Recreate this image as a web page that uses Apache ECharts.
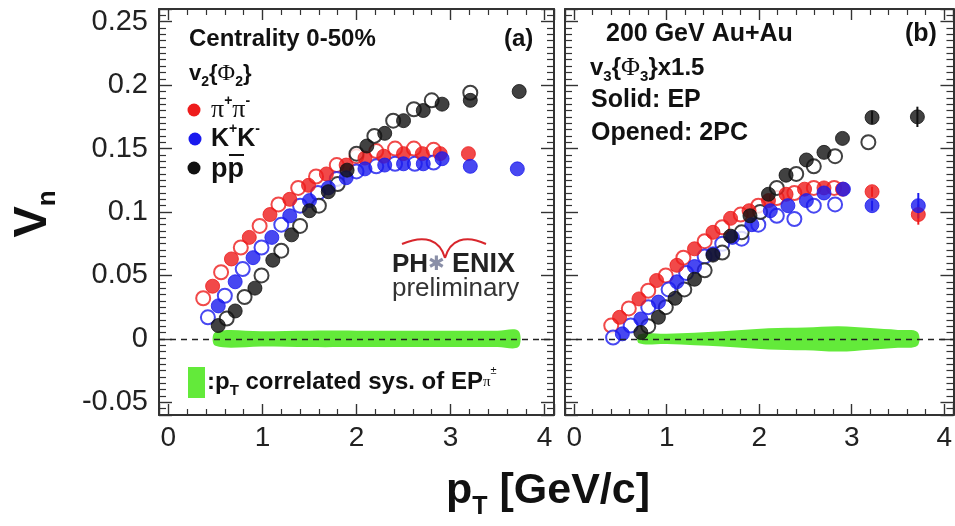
<!DOCTYPE html>
<html>
<head>
<meta charset="utf-8">
<script src="https://cdn.jsdelivr.net/npm/echarts@6/dist/echarts.min.js"></script>
<style>
  html, body { margin: 0; padding: 0; background: #fff; }
  #chart { width: 955px; height: 526px; }
</style>
</head>
<body>
<div id="chart"></div>
<script>
// ---------- Panel (a): v2{Phi2}, centrality 0-50% ----------
// filled = event plane (EP), open = two-particle correlation (2PC)
const a_piEP_pt = [0.47, 0.67, 0.86, 1.08, 1.29, 1.49, 1.68, 1.89, 2.09, 2.29, 2.50, 2.70, 2.89, 3.19];
const a_piEP_v  = [0.0415, 0.063, 0.080, 0.098, 0.110, 0.121, 0.130, 0.137, 0.1425, 0.144, 0.146, 0.146, 0.146, 0.146];
const a_piPC_pt = [0.37, 0.56, 0.77, 0.97, 1.17, 1.38, 1.57, 1.79, 2.00, 2.21, 2.41, 2.61, 2.82];
const a_piPC_v  = [0.032, 0.0525, 0.072, 0.089, 0.106, 0.119, 0.128, 0.137, 0.144, 0.148, 0.150, 0.150, 0.149];
const a_kEP_pt  = [0.53, 0.71, 0.90, 1.10, 1.29, 1.50, 1.70, 1.89, 2.09, 2.30, 2.50, 2.71, 2.91, 3.21, 3.71];
const a_kEP_v   = [0.026, 0.045, 0.064, 0.080, 0.097, 0.109, 0.119, 0.127, 0.134, 0.137, 0.138, 0.138, 0.142, 0.136, 0.134];
const a_kPC_pt  = [0.42, 0.60, 0.79, 0.99, 1.20, 1.40, 1.59, 1.79, 2.00, 2.21, 2.41, 2.62, 2.82];
const a_kPC_v   = [0.017, 0.034, 0.055, 0.072, 0.090, 0.105, 0.115, 0.126, 0.132, 0.136, 0.138, 0.138, 0.139];
const a_pEP_pt  = [0.53, 0.71, 0.92, 1.11, 1.31, 1.50, 1.70, 1.90, 2.11, 2.30, 2.50, 2.71, 2.91, 3.21, 3.73];
const a_pEP_v   = [0.0105, 0.022, 0.040, 0.062, 0.082, 0.101, 0.116, 0.133, 0.152, 0.162, 0.172, 0.180, 0.185, 0.188, 0.195];
const a_pPC_pt  = [0.62, 0.81, 0.99, 1.20, 1.40, 1.60, 1.80, 2.00, 2.19, 2.39, 2.61, 2.80, 3.21];
const a_pPC_v   = [0.016, 0.033, 0.050, 0.0695, 0.089, 0.105, 0.122, 0.146, 0.160, 0.172, 0.181, 0.188, 0.194];
// pT-correlated systematic band of the EP pi0 (half width)
const a_band_pt = [0.50, 1.00, 1.50, 2.00, 2.50, 3.00, 3.50, 3.72];
const a_band_hw = [0.0055, 0.006, 0.0065, 0.0065, 0.0065, 0.0065, 0.0065, 0.0065];

// ---------- Panel (b): v3{Phi3} x 1.5, 200 GeV Au+Au ----------
const b_piEP_pt  = [0.49, 0.70, 0.89, 1.11, 1.30, 1.50, 1.69, 1.89, 2.10, 2.29, 2.49, 2.70, 2.90, 3.22, 3.72];
const b_piEP_v   = [0.017, 0.0315, 0.046, 0.058, 0.071, 0.084, 0.095, 0.101, 0.109, 0.114, 0.118, 0.119, 0.118, 0.116, 0.098];
const b_piEP_err = [0, 0, 0, 0, 0, 0, 0, 0, 0, 0, 0, 0, 0, 0.004, 0.008];
const b_piPC_pt  = [0.40, 0.59, 0.80, 0.99, 1.18, 1.41, 1.60, 1.80, 1.99, 2.19, 2.38, 2.59, 2.81];
const b_piPC_v   = [0.0105, 0.024, 0.038, 0.050, 0.064, 0.077, 0.088, 0.098, 0.105, 0.111, 0.115, 0.119, 0.119];
const b_kEP_pt   = [0.52, 0.72, 0.91, 1.11, 1.30, 1.50, 1.71, 1.92, 2.12, 2.31, 2.51, 2.70, 2.91, 3.22, 3.72];
const b_kEP_v    = [0.004, 0.0157, 0.029, 0.045, 0.057, 0.067, 0.080, 0.090, 0.101, 0.105, 0.109, 0.115, 0.118, 0.105, 0.105];
const b_kEP_err  = [0, 0, 0, 0, 0, 0, 0, 0, 0, 0, 0, 0, 0, 0.004, 0.010];
const b_kPC_pt   = [0.42, 0.61, 0.80, 1.02, 1.21, 1.41, 1.60, 1.81, 1.99, 2.19, 2.38, 2.59, 2.82];
const b_kPC_v    = [0.001, 0.0105, 0.025, 0.039, 0.052, 0.065, 0.075, 0.079, 0.090, 0.097, 0.0945, 0.105, 0.106];
const b_pEP_pt   = [0.72, 0.91, 1.09, 1.30, 1.50, 1.69, 1.90, 2.10, 2.29, 2.51, 2.70, 2.90, 3.22, 3.71];
const b_pEP_v    = [0.005, 0.017, 0.032, 0.047, 0.066, 0.081, 0.097, 0.114, 0.129, 0.141, 0.147, 0.158, 0.1745, 0.175];
const b_pEP_err  = [0, 0, 0, 0, 0, 0, 0, 0, 0, 0, 0, 0, 0.005, 0.008];
const b_pPC_pt   = [0.80, 0.99, 1.19, 1.41, 1.60, 1.81, 2.01, 2.19, 2.40, 2.59, 2.82, 3.18];
const b_pPC_v    = [0.010, 0.025, 0.039, 0.054, 0.068, 0.084, 0.100, 0.119, 0.130, 0.136, 0.144, 0.155];
const b_band_pt  = [0.70, 1.00, 1.60, 2.10, 2.50, 2.86, 3.20, 3.50, 3.71];
const b_band_hw  = [0.0035, 0.004, 0.006, 0.0083, 0.009, 0.010, 0.0085, 0.007, 0.0055];

// axis ranges and tick labels
const xRange = [-0.1, 4.1];
const yRange = [-0.06, 0.26];
const xTickLabels = ['0', '1', '2', '3', '4'];

const RED = '#ee1c1c', BLUE = '#1a1aee', BLACK = '#111111', GREEN = '#63ea3a';
const FRAME = '#333333';
const FONT = 'Liberation Sans';

const zip = (xs, ys) => xs.map((x, i) => [x, ys[i]]);

function xAxisDef(grid, pos) {
  return {
    type: 'value', gridIndex: grid, position: pos,
    min: xRange[0], max: xRange[1], splitNumber: 4,
    axisLine: { show: true, onZero: false, lineStyle: { color: FRAME, width: 2 } },
    axisTick: { show: true, inside: true, length: 11, lineStyle: { color: FRAME, width: 1.4 } },
    minorTick: { show: true, splitNumber: 5, length: 6, lineStyle: { color: FRAME, width: 1.2 } },
    axisLabel: {
      show: pos === 'bottom', showMinLabel: false, showMaxLabel: false,
      fontSize: 28, fontFamily: FONT, color: '#222', margin: 9,
      formatter: v => xTickLabels[Math.round(v)] !== undefined ? xTickLabels[Math.round(v)] : ''
    },
    splitLine: { show: false }
  };
}
function yAxisDef(grid, pos, labels) {
  return {
    type: 'value', gridIndex: grid, position: pos,
    min: yRange[0], max: yRange[1], splitNumber: 6,
    axisLine: { show: true, onZero: false, lineStyle: { color: FRAME, width: 2 } },
    axisTick: { show: true, inside: true, length: 13, lineStyle: { color: FRAME, width: 1.4 } },
    minorTick: { show: true, splitNumber: 10, length: 7, lineStyle: { color: FRAME, width: 1.2 } },
    axisLabel: {
      show: labels, showMinLabel: false, showMaxLabel: false,
      fontSize: 29, fontFamily: FONT, color: '#222', margin: 11,
      formatter: v => String(Math.round(v * 100) / 100)
    },
    splitLine: { show: false }
  };
}

function points(name, xi, yi, data, color, open, z) {
  return {
    name, type: 'scatter', xAxisIndex: xi, yAxisIndex: yi, data,
    symbol: 'circle', symbolSize: 14, z,
    itemStyle: open
      ? { color: '#ffffff', borderColor: color, borderWidth: 2 }
      : { color: color, borderColor: color, borderWidth: 1 },
    emphasis: { disabled: true }, silent: true
  };
}

function band(xi, yi, pts, hw) {
  return {
    type: 'custom', xAxisIndex: xi, yAxisIndex: yi, z: 1, silent: true,
    data: [[pts[0], 0]],
    renderItem: (params, api) => {
      const poly = [];
      for (let i = 0; i < pts.length; i++) poly.push(api.coord([pts[i], hw[i]]));
      for (let i = pts.length - 1; i >= 0; i--) poly.push(api.coord([pts[i], -hw[i]]));
      return { type: 'polygon', shape: { points: poly, smooth: 0.35 }, style: { fill: GREEN } };
    },
    markLine: {
      silent: true, symbol: 'none', z: 5,
      label: { show: false },
      lineStyle: { color: '#222', type: [6, 5], width: 1.4 },
      data: [{ yAxis: 0 }]
    }
  };
}

function errorBars(xi, yi, xs, ys, es, color) {
  const data = [];
  xs.forEach((x, i) => { if (es[i] > 0) data.push([x, ys[i] - es[i], ys[i] + es[i]]); });
  return {
    type: 'custom', xAxisIndex: xi, yAxisIndex: yi, z: 3, silent: true, data,
    renderItem: (params, api) => {
      const lo = api.coord([api.value(0), api.value(1)]);
      const hi = api.coord([api.value(0), api.value(2)]);
      return { type: 'line', shape: { x1: lo[0], y1: lo[1], x2: hi[0], y2: hi[1] }, style: { stroke: color, lineWidth: 2 } };
    }
  };
}

const txt = (x, y, text, extra) => ({
  type: 'text', x, y, z: 50, silent: true,
  style: Object.assign({
    text, fontFamily: FONT, fontWeight: 'bold', fontSize: 23, fill: '#111',
    align: 'left', verticalAlign: 'middle'
  }, extra || {})
});

// rich text helpers: b = base, s = subscript, u = superscript, g = greek
function richSet(size, sub) {
  return {
    b: { fontFamily: FONT, fontWeight: 'bold', fontSize: size, lineHeight: size * 1.35, verticalAlign: 'middle', fill: '#111' },
    s: { fontFamily: FONT, fontWeight: 'bold', fontSize: sub, lineHeight: sub, verticalAlign: 'bottom', fill: '#111' },
    u: { fontFamily: FONT, fontWeight: 'bold', fontSize: sub, lineHeight: sub, verticalAlign: 'top', fill: '#111' },
    g: { fontFamily: 'Liberation Serif', fontWeight: 'normal', fontSize: size + 2, lineHeight: size * 1.35, verticalAlign: 'middle', fill: '#111' },
    gs: { fontFamily: 'Liberation Serif', fontWeight: 'normal', fontSize: sub, lineHeight: size * 1.35, verticalAlign: 'middle', fill: '#111' },
    us: { fontFamily: FONT, fontWeight: 'normal', fontSize: sub - 4, lineHeight: sub, verticalAlign: 'top', fill: '#111' }
  };
}
// rich text block whose plain (untagged) parts use the base bold style
function richText(x, y, text, size, sub, align) {
  return {
    type: 'text', x, y, z: 50, silent: true,
    style: {
      text, align: align || 'left', verticalAlign: 'middle',
      fontFamily: FONT, fontWeight: 'bold', fontSize: size, lineHeight: size * 1.35, fill: '#111',
      rich: richSet(size, sub)
    }
  };
}

const chart = echarts.init(document.getElementById('chart'), null, { renderer: 'canvas' });

const option = {
  backgroundColor: '#ffffff',
  animation: false,
  grid: [
    { left: 159, top: 9, width: 395, height: 406 },
    { left: 565, top: 9, width: 395, height: 406 }
  ],
  xAxis: [xAxisDef(0, 'bottom'), xAxisDef(0, 'top'), xAxisDef(1, 'bottom'), xAxisDef(1, 'top')],
  yAxis: [yAxisDef(0, 'left', true), yAxisDef(0, 'right', false), yAxisDef(1, 'left', false), yAxisDef(1, 'right', false)],
  series: [
    band(0, 0, a_band_pt, a_band_hw),
    points('pi 2PC', 0, 0, zip(a_piPC_pt, a_piPC_v), RED, true, 2),
    points('K 2PC', 0, 0, zip(a_kPC_pt, a_kPC_v), BLUE, true, 2),
    points('p 2PC', 0, 0, zip(a_pPC_pt, a_pPC_v), BLACK, true, 2),
    points('pi EP', 0, 0, zip(a_piEP_pt, a_piEP_v), RED, false, 4),
    points('K EP', 0, 0, zip(a_kEP_pt, a_kEP_v), BLUE, false, 4),
    points('p EP', 0, 0, zip(a_pEP_pt, a_pEP_v), BLACK, false, 4),

    band(2, 2, b_band_pt, b_band_hw),
    errorBars(2, 2, b_piEP_pt, b_piEP_v, b_piEP_err, RED),
    errorBars(2, 2, b_kEP_pt, b_kEP_v, b_kEP_err, BLUE),
    errorBars(2, 2, b_pEP_pt, b_pEP_v, b_pEP_err, BLACK),
    points('pi 2PC', 2, 2, zip(b_piPC_pt, b_piPC_v), RED, true, 2),
    points('K 2PC', 2, 2, zip(b_kPC_pt, b_kPC_v), BLUE, true, 2),
    points('p 2PC', 2, 2, zip(b_pPC_pt, b_pPC_v), BLACK, true, 2),
    points('pi EP', 2, 2, zip(b_piEP_pt, b_piEP_v), RED, false, 4),
    points('K EP', 2, 2, zip(b_kEP_pt, b_kEP_v), BLUE, false, 4),
    points('p EP', 2, 2, zip(b_pEP_pt, b_pEP_v), BLACK, false, 4)
  ],
  graphic: [
    // y-axis title
    {
      type: 'text', x: 33, y: 214, rotation: Math.PI / 2, z: 50, silent: true,
      style: {
        text: '{v|V}{n|n}', align: 'center', verticalAlign: 'middle',
        rich: {
          v: { fontFamily: FONT, fontWeight: 'bold', fontSize: 47, lineHeight: 56, verticalAlign: 'middle', fill: '#111' },
          n: { fontFamily: FONT, fontWeight: 'bold', fontSize: 26, lineHeight: 26, verticalAlign: 'bottom', fill: '#111' }
        }
      }
    },
    // x-axis title
    richText(548, 491, '{b|p}{s|T}{b| [GeV/c]}', 43, 25, 'center'),

    // panel (a) annotations
    txt(189, 39, 'Centrality 0-50%', { fontSize: 24 }),
    txt(504, 39, '(a)', { fontSize: 24 }),
    richText(189, 74, '{b|v}{s|2}{{g|Φ}{s|2}}', 22, 14),
    // legend markers
    { type: 'circle', shape: { cx: 194, cy: 110, r: 6.5 }, style: { fill: RED }, z: 50, silent: true },
    { type: 'circle', shape: { cx: 195, cy: 139, r: 6.5 }, style: { fill: BLUE }, z: 50, silent: true },
    { type: 'circle', shape: { cx: 194, cy: 168, r: 6.5 }, style: { fill: BLACK }, z: 50, silent: true },
    richText(211, 110, '{g|π}{u|+}{g|π}{u|-}', 24, 14),
    richText(211, 139, '{b|K}{u|+}{b|K}{u|-}', 25, 14),
    txt(211, 170, 'pp', { fontSize: 27 }),
    { type: 'line', shape: { x1: 229, y1: 155, x2: 244, y2: 155 }, style: { stroke: '#111', lineWidth: 2 }, z: 50, silent: true },

    // PHENIX preliminary
    {
      type: 'bezierCurve', z: 50, silent: true,
      shape: { x1: 402, y1: 244, cpx1: 425, cpy1: 234, cpx2: 440, cpy2: 240, x2: 445, y2: 258 },
      style: { stroke: '#d8262c', lineWidth: 2, fill: 'none' }
    },
    {
      type: 'bezierCurve', z: 50, silent: true,
      shape: { x1: 445, y1: 258, cpx1: 450, cpy1: 240, cpx2: 465, cpy2: 234, x2: 486, y2: 244 },
      style: { stroke: '#d8262c', lineWidth: 2, fill: 'none' }
    },
    txt(392, 265, 'PH', { fontSize: 26, fill: '#222' }),
    txt(428, 265, '✱', { fontSize: 20, fill: '#8a8fa8', fontFamily: 'DejaVu Sans', fontWeight: 'normal' }),
    txt(452, 265, 'ENIX', { fontSize: 27, fill: '#222' }),
    txt(392, 289, 'preliminary', { fontSize: 26, fill: '#333', fontWeight: 'normal' }),

    // systematic band legend
    { type: 'rect', shape: { x: 188, y: 367, width: 17, height: 31 }, style: { fill: GREEN }, z: 50, silent: true },
    richText(207, 382, '{b|:p}{s|T}{b| correlated sys. of EP}{gs|π}{us|±}', 24, 15),

    // panel (b) annotations
    txt(606, 34, '200 GeV Au+Au', { fontSize: 25 }),
    txt(905, 34, '(b)', { fontSize: 25 }),
    richText(590, 68, '{b|v}{s|3}{{g|Φ}{s|3}}x1.5', 24, 15),
    txt(591, 100, 'Solid: EP', { fontSize: 25 }),
    txt(591, 133, 'Opened: 2PC', { fontSize: 25 })
  ]
};

chart.setOption(option);
</script>
</body>
</html>
